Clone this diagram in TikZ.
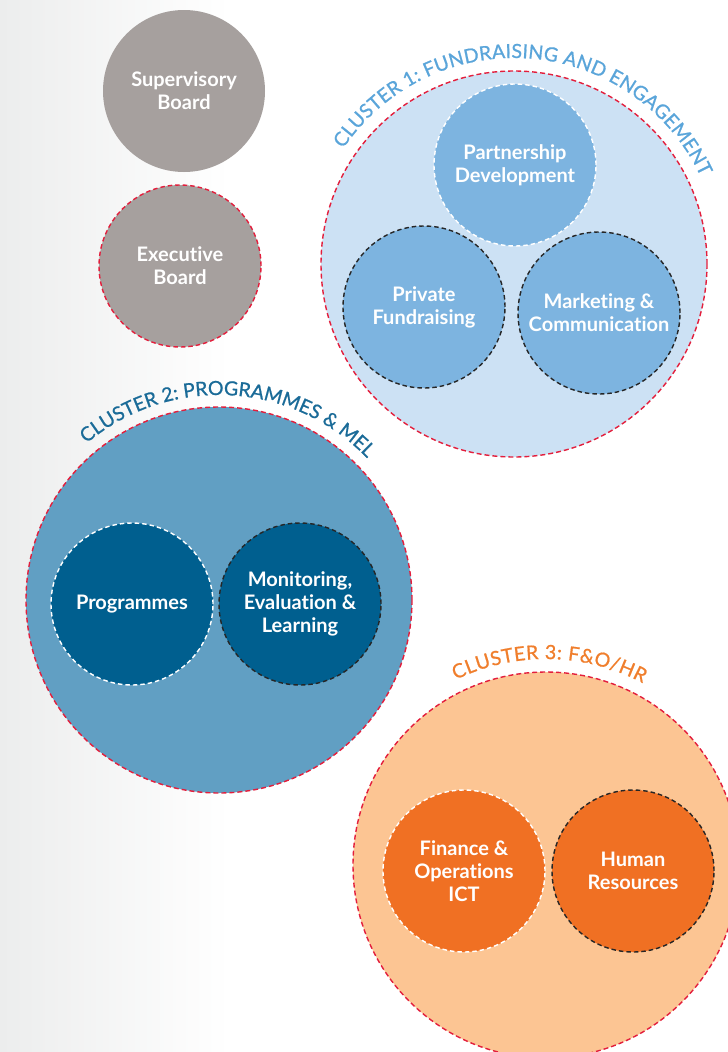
\documentclass[tikz,border=0pt]{standalone}
\usepackage{fontspec}
\setmainfont{Lato}[Ligatures=NoCommon]
\newfontface\labelface{Lato}[Ligatures=NoCommon, FakeBold=0.8]
\usepackage{xcolor}
\usepackage{tikz}
\usetikzlibrary{calc, decorations.text}

\definecolor{bggray}{HTML}{ECEDED}
\definecolor{boardgray}{HTML}{A6A09E}
\definecolor{dashred}{HTML}{E31E3C}
\definecolor{clalight}{HTML}{CCE1F4}
\definecolor{clamid}{HTML}{7DB4E0}
\definecolor{clatext}{HTML}{5AA5DA}
\definecolor{clblight}{HTML}{619FC3}
\definecolor{clbdark}{HTML}{005F8F}
\definecolor{clbtext}{HTML}{1A6B98}
\definecolor{clclight}{HTML}{FCC593}
\definecolor{clcdark}{HTML}{F07023}
\definecolor{clctext}{HTML}{F07E2C}

\newcommand{\unitfont}{\bfseries\fontsize{20}{23}\selectfont}
\newcommand{\labelfont}{\labelface\fontsize{19.5}{19.5}\selectfont}

\begin{document}
\begin{tikzpicture}[x=1pt, y=1pt,
        board/.style={circle, minimum size=162pt, inner sep=0pt, fill=boardgray, text=white, align=center, font=\unitfont},
        cluster/.style={circle, minimum size=386pt, inner sep=0pt, draw=dashred, line width=1.4pt, dash pattern=on 5pt off 3pt},
        team/.style={circle, minimum size=162pt, inner sep=0pt, text=white, align=center, font=\unitfont, line width=1.4pt, dash pattern=on 4.5pt off 3pt},
        arclabel/.style={decorate, decoration={text along path, text align={fit to path}, text={#1}}},
        arclabelc/.style={decorate, decoration={text along path, text align=center, text={#1}}}]

        %% Background
        \useasboundingbox (0,0) rectangle (728,-1052);
        \clip (0,0) rectangle (728,-1052);
        \fill [white] (0,0) rectangle (728,-1052);
        \shade [left color=bggray, right color=white] (0,0) rectangle (230,-1052);

        %% Boards
        \node (supervisory) [board] at (184,-91) {Supervisory\\Board};
        \node (executive) [board, draw=dashred, line width=1.4pt, dash pattern=on 4.5pt off 3pt] at (180,-266) {Executive\\Board};

        %% Clusters
        \node (clusterA) [cluster, fill=clalight] at (514,-264) {};
        \node (clusterB) [cluster, fill=clblight] at (219,-600) {};
        \node (clusterC) [cluster, fill=clclight] at (546,-865) {};

        %% Cluster 1
        \node (partnership) [team, fill=clamid, draw=white] at (515,-165) {Partnership\\Development};
        \node (private) [team, fill=clamid, draw=black!85] at (424,-307) {Private\\Fundraising};
        \node (marketing) [team, fill=clamid, draw=black!85] at (599,-313) {Marketing \&\\Communication};

        %% Cluster 2
        \node (programmes) [team, fill=clbdark, draw=white] at (132,-604) {Programmes};
        \node (mel) [team, fill=clbdark, draw=black!85] at (300,-604) {Monitoring,\\Evaluation \&\\Learning};

        %% Cluster 3
        \node (finance) [team, fill=clcdark, draw=white] at (464,-871) {Finance \&\\Operations\\ICT};
        \node (hr) [team, fill=clcdark, draw=black!85] at (633,-871) {Human\\Resources};

        %% Labels
        \path [arclabel={|\color{clatext}\labelfont|CLUSTER 1: FUNDRAISING AND ENGAGEMENT}] ($(clusterA.center)+(146:206)$) arc [start angle=146, end angle=25, radius=206];
        \path [arclabelc={|\color{clbtext}\labelfont|CLUSTER 2: PROGRAMMES {\&} MEL}] ($(clusterB.center)+(142:205)$) arc [start angle=142, end angle=32, radius=205];
        \path [arclabel={|\color{clctext}\labelfont|CLUSTER 3: F{\&}O/HR}] ($(clusterC.center)+(116:206)$) arc [start angle=116, end angle=62, radius=206];

\end{tikzpicture}
\end{document}
